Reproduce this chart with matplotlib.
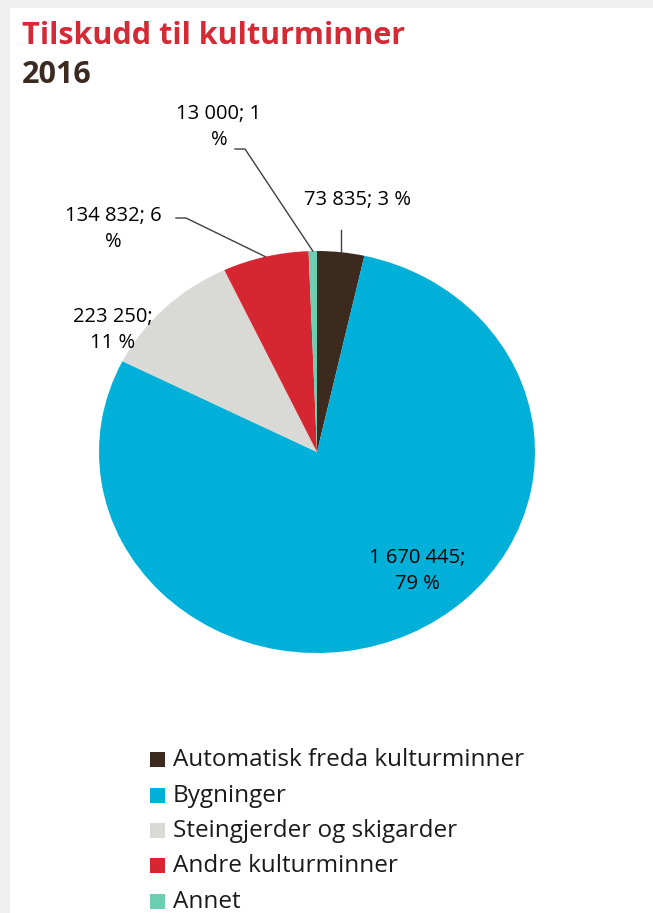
import numpy as np
import matplotlib
matplotlib.use("Agg")
import matplotlib.pyplot as plt
from matplotlib.patches import Rectangle
from matplotlib.lines import Line2D
from matplotlib.transforms import IdentityTransform

# ______________________________________________________________________________
# Data

categories = ["Automatisk freda kulturminner", "Bygninger",
              "Steingjerder og skigarder", "Andre kulturminner", "Annet"]
values = [73835, 1670445, 223250, 134832, 13000]
value_labels = ["73 835; 3 %", "1 670 445;\n79 %", "223 250;\n11 %",
                "134 832; 6\n%", "13 000; 1\n%"]
colors = ["#3d2a1e", "#00b0d8", "#d9d9d6", "#d52631", "#6ccdb0"]

W, H = 653, 913
plt.rcParams['font.family'] = ['Open Sans', 'DejaVu Sans']

fig = plt.figure(figsize=(W / 100, H / 100), dpi=100, facecolor="#efefef")


def px(x, y):
    # top-left pixel coords -> figure fraction
    return x / W, 1 - y / H


# white card
fig.patches.append(Rectangle((10 / W, 0), 1, 1 - 8 / H, transform=fig.transFigure,
                             facecolor="white", edgecolor="none", zorder=-5))

fig.text(*px(22, 36), "Tilskudd til kulturminner", color="#d42a35",
         fontsize=22, fontweight="bold", va="center", ha="left")
fig.text(*px(22, 75), "2016", color="#3a2a1f",
         fontsize=22, fontweight="bold", va="center", ha="left")

# pie (slightly wider than tall, as in the reference)
cx, cy, rx, ry = 317, 452, 218, 201
ax = fig.add_axes([(cx - rx) / W, (H - cy - ry) / H, 2 * rx / W, 2 * ry / H])
ax.set_zorder(2)
wedges, _ = ax.pie(values, colors=colors, startangle=90, counterclock=False,
                   radius=1, wedgeprops=dict(linewidth=0))
ax.set_aspect("auto")
ax.set_xlim(-1, 1)
ax.set_ylim(-1, 1)
ax.axis("off")

fig.canvas.draw()


def anchor(w):
    mid = np.deg2rad((w.theta1 + w.theta2) / 2)
    x, y = ax.transData.transform((np.cos(mid), np.sin(mid)))
    return x, y


def leader(points):
    xs = [p[0] for p in points]
    ys = [p[1] for p in points]
    fig.add_artist(Line2D(xs, ys, transform=IdentityTransform(),
                          color="#404040", lw=1, zorder=3))


lab_fs = 14.5
ls = 1.4
# Automatisk freda
fig.text(*px(358, 200), value_labels[0], fontsize=lab_fs, ha="center", va="center")
ax0, ay0 = anchor(wedges[0])
leader([(ax0, ay0), (ax0, H - 230)])

# Bygninger
fig.text(*px(417, 571), value_labels[1], fontsize=lab_fs, ha="center", va="center",
         linespacing=ls, zorder=5)

# Steingjerder
fig.text(*px(113, 330), value_labels[2], fontsize=lab_fs, ha="center", va="center",
         linespacing=ls)

# Andre kulturminner
fig.text(*px(113, 229), value_labels[3], fontsize=lab_fs, ha="center", va="center",
         linespacing=ls)
ax3, ay3 = anchor(wedges[3])
leader([(176, H - 218), (186, H - 218), (ax3, ay3)])

# Annet
fig.text(*px(219, 127), value_labels[4], fontsize=lab_fs, ha="center", va="center",
         linespacing=ls)
ax4, ay4 = anchor(wedges[4])
leader([(235, H - 149), (245, H - 149), (ax4, ay4)])

# legend
leg_y = [760, 796, 831, 866, 902]
for name, col, y in zip(categories, colors, leg_y):
    fig.patches.append(Rectangle((150 / W, (H - y - 7) / H), 15 / W, 15 / H,
                                 transform=fig.transFigure, facecolor=col,
                                 edgecolor="none"))
    fig.text(*px(173, y), name, fontsize=17.5, ha="left", va="center",
             color="#1a1a1a")

fig.savefig("out.png", dpi=100, facecolor=fig.get_facecolor())
